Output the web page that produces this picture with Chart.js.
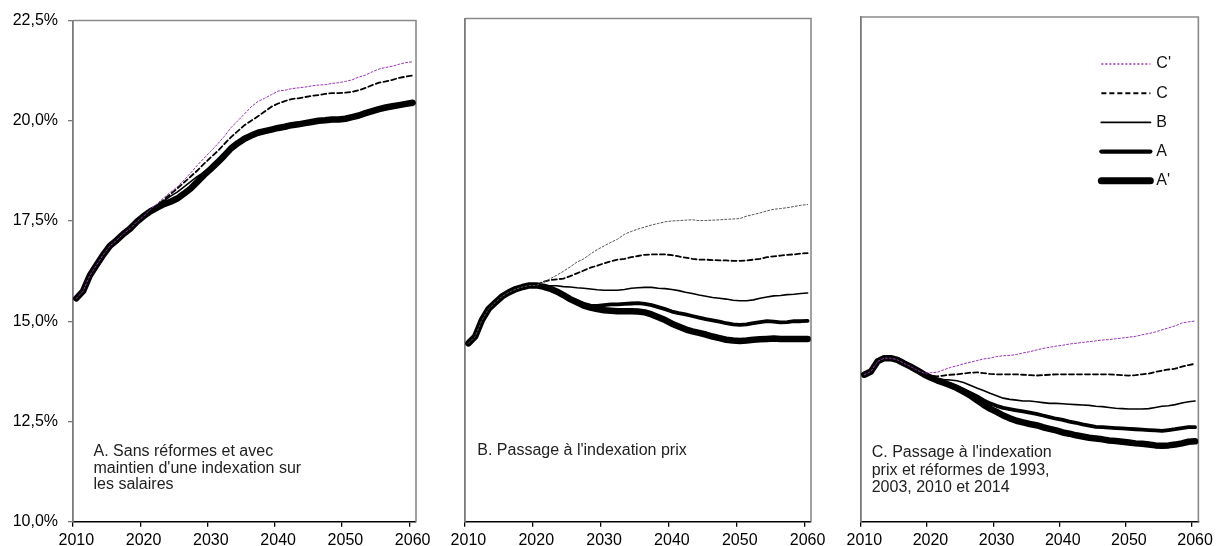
<!DOCTYPE html>
<html>
<head>
<meta charset="utf-8">
<script src="https://cdn.jsdelivr.net/npm/chart.js@4.4.1/dist/chart.umd.min.js"></script>
<style>
  html, body { margin: 0; padding: 0; background: #fff; }
  #wrap { position: relative; width: 1217px; height: 546px; overflow: hidden; }
  canvas { position: absolute; top: 0; }
</style>
</head>
<body>
<div id="wrap">
  <canvas id="p1" width="440" height="546" style="left:0px"></canvas>
  <canvas id="p2" width="400" height="546" style="left:430px"></canvas>
  <canvas id="p3" width="387" height="546" style="left:830px"></canvas>
</div>
<script>
// ---- categories and tick labels ----
const YEARS = Array.from({ length: 51 }, (_, i) => 2010 + i);
const TICK_YEARS = [2010, 2020, 2030, 2040, 2050, 2060];
const Y_MIN = 10, Y_MAX = 22.5, Y_STEP = 2.5;
const SERIES_NAMES = ["C'", "C", "B", "A", "A'"];

// ---- A. Sans réformes et avec maintien d'une indexation sur les salaires ----
const P1_CP = [15.57,15.75,16.14,16.40,16.66,16.88,17.02,17.18,17.31,17.48,17.62,
  17.79,17.93,18.08,18.22,18.35,18.52,18.70,18.89,19.07,19.24,
  19.42,19.61,19.83,20.00,20.17,20.35,20.48,20.56,20.65,20.74,
  20.76,20.80,20.82,20.84,20.87,20.89,20.90,20.93,20.95,20.98,
  21.02,21.09,21.14,21.22,21.29,21.33,21.36,21.41,21.45,21.47];
const P1_C = [15.57,15.75,16.14,16.40,16.66,16.88,17.02,17.18,17.31,17.48,17.62,
  17.76,17.89,18.03,18.17,18.31,18.46,18.61,18.76,18.93,19.09,
  19.24,19.42,19.59,19.74,19.89,20.00,20.11,20.23,20.35,20.43,
  20.49,20.54,20.56,20.59,20.62,20.64,20.67,20.69,20.69,20.70,
  20.72,20.76,20.82,20.89,20.95,20.98,21.02,21.07,21.10,21.13];
const P1_B = [15.57,15.75,16.14,16.40,16.66,16.88,17.02,17.18,17.31,17.48,17.62,
  17.79,17.89,18.00,18.12,18.22,18.35,18.48,18.61,18.72,18.81,
  18.95,19.13,19.31,19.44,19.55,19.63,19.70,19.74,19.78,19.82,
  19.85,19.89,19.91,19.94,19.97,20.00,20.01,20.03,20.03,20.05,
  20.09,20.13,20.19,20.24,20.29,20.33,20.36,20.39,20.42,20.45];
const P1_A = [15.57,15.75,16.14,16.40,16.66,16.88,17.02,17.18,17.31,17.48,17.62,
  17.74,17.83,17.92,17.98,18.06,18.18,18.31,18.48,18.65,18.80,
  18.96,19.13,19.31,19.44,19.55,19.63,19.70,19.74,19.78,19.82,
  19.85,19.89,19.91,19.94,19.97,20.00,20.01,20.03,20.03,20.05,
  20.09,20.13,20.19,20.24,20.29,20.33,20.36,20.39,20.42,20.45];
const P1_AP = [15.57,15.75,16.14,16.40,16.66,16.88,17.02,17.18,17.31,17.48,17.62,
  17.74,17.83,17.92,17.98,18.06,18.18,18.31,18.48,18.65,18.80,
  18.96,19.13,19.31,19.44,19.55,19.63,19.70,19.74,19.78,19.82,
  19.85,19.89,19.91,19.94,19.97,20.00,20.01,20.03,20.03,20.05,
  20.09,20.13,20.19,20.24,20.29,20.33,20.36,20.39,20.42,20.45];

// ---- B. Passage à l'indexation prix ----
const P2_CP = [14.43,14.60,15.01,15.29,15.45,15.60,15.70,15.78,15.83,15.87,15.87,
  15.94,16.03,16.12,16.22,16.33,16.45,16.53,16.65,16.76,16.85,
  16.94,17.02,17.14,17.21,17.27,17.32,17.37,17.41,17.45,17.47,
  17.48,17.49,17.50,17.48,17.48,17.49,17.50,17.51,17.52,17.53,
  17.59,17.63,17.67,17.72,17.76,17.78,17.80,17.83,17.86,17.88];
const P2_C = [14.43,14.60,15.01,15.29,15.45,15.60,15.70,15.78,15.83,15.87,15.87,
  15.96,16.00,16.02,16.04,16.10,16.17,16.24,16.31,16.36,16.42,
  16.47,16.51,16.53,16.57,16.60,16.63,16.64,16.64,16.64,16.62,
  16.59,16.56,16.53,16.51,16.51,16.50,16.49,16.49,16.48,16.48,
  16.49,16.51,16.53,16.57,16.59,16.61,16.63,16.64,16.66,16.67];
const P2_B = [14.43,14.60,15.01,15.29,15.45,15.60,15.70,15.78,15.83,15.87,15.87,
  15.87,15.86,15.86,15.84,15.83,15.81,15.80,15.78,15.76,15.75,
  15.75,15.75,15.77,15.80,15.81,15.82,15.82,15.80,15.79,15.77,
  15.74,15.70,15.67,15.63,15.60,15.57,15.55,15.53,15.50,15.49,
  15.49,15.51,15.55,15.58,15.61,15.62,15.64,15.65,15.67,15.68];
const P2_A = [14.43,14.60,15.01,15.29,15.45,15.60,15.70,15.78,15.83,15.87,15.87,
  15.84,15.79,15.72,15.63,15.54,15.46,15.41,15.37,15.36,15.38,
  15.40,15.40,15.41,15.42,15.43,15.41,15.38,15.33,15.28,15.22,
  15.18,15.15,15.11,15.07,15.03,15.00,14.97,14.93,14.90,14.89,
  14.90,14.93,14.96,14.98,14.97,14.95,14.96,14.98,14.98,14.99];
const P2_AP = [14.43,14.60,15.01,15.29,15.45,15.60,15.70,15.78,15.83,15.87,15.87,
  15.84,15.79,15.72,15.63,15.53,15.45,15.37,15.32,15.28,15.25,
  15.24,15.23,15.23,15.23,15.22,15.20,15.15,15.08,15.01,14.92,
  14.85,14.78,14.73,14.69,14.65,14.60,14.56,14.52,14.50,14.49,
  14.50,14.52,14.53,14.54,14.55,14.54,14.54,14.54,14.54,14.54];

// ---- C. Passage à l'indexation prix et réformes de 1993, 2003, 2010 et 2014 ----
const P3_CP = [13.64,13.72,13.97,14.05,14.05,14.01,13.92,13.84,13.75,13.68,13.69,
  13.70,13.76,13.82,13.86,13.91,13.95,13.99,14.03,14.05,14.09,
  14.11,14.12,14.14,14.18,14.21,14.25,14.29,14.32,14.35,14.37,
  14.40,14.42,14.44,14.46,14.48,14.50,14.51,14.53,14.55,14.57,
  14.59,14.63,14.66,14.70,14.75,14.80,14.85,14.92,14.95,14.97];
const P3_C = [13.64,13.72,13.97,14.05,14.05,14.01,13.92,13.84,13.75,13.66,13.62,
  13.60,13.62,13.64,13.65,13.67,13.69,13.70,13.68,13.66,13.65,
  13.65,13.65,13.65,13.64,13.63,13.62,13.63,13.64,13.65,13.65,
  13.65,13.65,13.65,13.65,13.65,13.65,13.65,13.64,13.63,13.62,
  13.63,13.65,13.67,13.71,13.74,13.77,13.79,13.84,13.88,13.91];
const P3_B = [13.64,13.72,13.97,14.05,14.05,14.01,13.92,13.84,13.75,13.66,13.59,
  13.54,13.52,13.51,13.49,13.45,13.38,13.31,13.25,13.18,13.12,
  13.06,13.03,13.01,12.99,12.99,12.97,12.95,12.93,12.93,12.92,
  12.91,12.90,12.89,12.88,12.86,12.85,12.83,12.81,12.80,12.79,
  12.79,12.79,12.80,12.83,12.86,12.87,12.90,12.94,12.97,12.99];
const P3_A = [13.64,13.72,13.97,14.05,14.05,14.01,13.92,13.84,13.75,13.65,13.57,
  13.50,13.45,13.39,13.34,13.27,13.19,13.11,13.01,12.93,12.87,
  12.82,12.79,12.76,12.73,12.70,12.67,12.63,12.59,12.55,12.52,
  12.48,12.45,12.41,12.38,12.35,12.34,12.33,12.32,12.31,12.30,
  12.29,12.28,12.27,12.26,12.25,12.27,12.29,12.32,12.34,12.34];
const P3_AP = [13.64,13.72,13.97,14.05,14.05,14.01,13.92,13.84,13.75,13.65,13.57,
  13.50,13.44,13.38,13.31,13.22,13.13,13.01,12.90,12.80,12.72,
  12.63,12.56,12.50,12.46,12.42,12.39,12.34,12.30,12.26,12.21,
  12.18,12.14,12.11,12.08,12.06,12.04,12.01,12.00,11.98,11.96,
  11.94,11.93,11.91,11.89,11.88,11.89,11.91,11.94,11.98,11.99];

// ---- line styles per scenario ----
const FONT = '"Liberation Sans", Arial, sans-serif';
const FONT_SIZE = 16;
const PURPLE = '#9a32b4';
function seriesStyle(name, dottedColor) {
  switch (name) {
    case "C'": return { borderColor: dottedColor, borderWidth: 1, borderDash: [2, 2] };
    case "C":  return { borderColor: '#000', borderWidth: 1.8, borderDash: [5, 3] };
    case "B":  return { borderColor: '#000', borderWidth: 1.6 };
    case "A":  return { borderColor: '#000', borderWidth: 3.8 };
    default:   return { borderColor: '#000', borderWidth: 6.5 };
  }
}

// plot frame: grey top and right edges
const frame = {
  id: 'frame',
  beforeDatasetsDraw(chart) {
    const { ctx, chartArea: a } = chart;
    ctx.save();
    ctx.strokeStyle = '#8a8a8a';
    ctx.lineWidth = 1.6;
    ctx.beginPath();
    ctx.moveTo(a.left, a.top);
    ctx.lineTo(a.right, a.top);
    ctx.lineTo(a.right, a.bottom);
    ctx.stroke();
    ctx.restore();
  }
};

// caption written inside the lower-left part of each panel
const caption = {
  id: 'caption',
  afterDraw(chart, args, opts) {
    if (!opts.lines) return;
    const { ctx, chartArea: a } = chart;
    ctx.save();
    ctx.font = FONT_SIZE + 'px ' + FONT;
    ctx.fillStyle = '#222';
    ctx.textAlign = 'left';
    ctx.textBaseline = 'middle';
    opts.lines.forEach((t, i) => ctx.fillText(t, a.left + opts.dx, a.bottom - opts.dy + i * opts.lh));
    ctx.restore();
  }
};

// scenario key drawn in the upper right of the chart area
const keyBox = {
  id: 'keyBox',
  afterDraw(chart, args, opts) {
    if (!opts.show) return;
    const { ctx, chartArea: a } = chart;
    ctx.save();
    ctx.font = FONT_SIZE + 'px ' + FONT;
    ctx.fillStyle = '#111';
    ctx.textAlign = 'left';
    ctx.textBaseline = 'middle';
    chart.data.datasets.forEach((ds, i) => {
      const y = a.top + opts.top + i * opts.row;
      const x0 = a.right - opts.right;
      ctx.beginPath();
      ctx.setLineDash(ds.borderDash || []);
      ctx.lineCap = ds.borderDash ? 'butt' : 'round';
      ctx.lineWidth = ds.borderWidth + (ds.borderWidth > 3 ? 0.5 : 0.3);
      ctx.strokeStyle = ds.borderColor;
      ctx.moveTo(x0, y);
      ctx.lineTo(x0 + opts.len, y);
      ctx.stroke();
      ctx.fillText(ds.label, x0 + opts.len + opts.gap, y);
    });
    ctx.restore();
  }
};

function makePanel(id, series, geo, dottedColor, captionOpts, showKey) {
  const datasets = series.map((vals, i) => Object.assign({
    label: SERIES_NAMES[i],
    data: vals,
    pointRadius: 0,
    tension: 0,
    fill: false,
    borderJoinStyle: 'round',
    borderCapStyle: 'round'
  }, seriesStyle(SERIES_NAMES[i], dottedColor)));

  return new Chart(document.getElementById(id), {
    type: 'line',
    data: { labels: YEARS, datasets },
    plugins: [frame, caption, keyBox],
    options: {
      responsive: false,
      animation: false,
      devicePixelRatio: 1,
      layout: { padding: { left: 0, right: geo.padRight, top: geo.padTop, bottom: 0 } },
      plugins: {
        legend: { display: false },
        tooltip: { enabled: false },
        caption: captionOpts,
        keyBox: showKey ? { show: true, top: 47, row: 29.2, right: 97, len: 49, gap: 6 } : { show: false }
      },
      scales: {
        x: {
          type: 'category',
          offset: true,
          afterFit: s => { s.height = 24.3; },
          border: { color: '#000', width: 1.5 },
          grid: {
            offset: true,
            drawOnChartArea: false,
            drawTicks: true,
            tickLength: 5,
            lineWidth: 1.3,
            color: c => TICK_YEARS.includes(YEARS[c.index]) ? '#000' : 'rgba(0,0,0,0)'
          },
          ticks: {
            autoSkip: false,
            maxRotation: 0,
            padding: 4,
            color: '#000',
            font: { family: FONT, size: FONT_SIZE },
            callback: (v, i) => TICK_YEARS.includes(YEARS[i]) ? String(YEARS[i]) : ''
          }
        },
        y: {
          type: 'linear',
          min: Y_MIN,
          max: Y_MAX,
          afterFit: s => { s.width = geo.yWidth; },
          border: { color: '#7a7a7a', width: 1.8 },
          grid: {
            display: geo.yTicks,
            drawOnChartArea: false,
            drawTicks: true,
            tickLength: 5,
            color: '#7a7a7a',
            lineWidth: 1.3
          },
          ticks: {
            display: geo.yTicks,
            stepSize: Y_STEP,
            padding: 10,
            color: '#000',
            font: { family: FONT, size: FONT_SIZE },
            callback: v => v.toFixed(1).replace('.', ',') + '%'
          }
        }
      }
    }
  });
}

makePanel('p1', [P1_CP, P1_C, P1_B, P1_A, P1_AP],
  { yWidth: 73, padRight: 24, padTop: 20.5, yTicks: true }, PURPLE,
  { lines: ['A. Sans réformes et avec', "maintien d'une indexation sur", 'les salaires'], dx: 20.5, dy: 70, lh: 16.5 },
  false);

makePanel('p2', [P2_CP, P2_C, P2_B, P2_A, P2_AP],
  { yWidth: 35, padRight: 19, padTop: 18.5, yTicks: false }, '#555',
  { lines: ["B. Passage à l'indexation prix"], dx: 12.3, dy: 71, lh: 17 },
  false);

makePanel('p3', [P3_CP, P3_C, P3_B, P3_A, P3_AP],
  { yWidth: 31, padRight: 15, padTop: 17, yTicks: false }, PURPLE,
  { lines: ["C. Passage à l'indexation", 'prix et réformes de 1993,', '2003, 2010 et 2014'], dx: 10.7, dy: 69, lh: 17.5 },
  true);
</script>
</body>
</html>
